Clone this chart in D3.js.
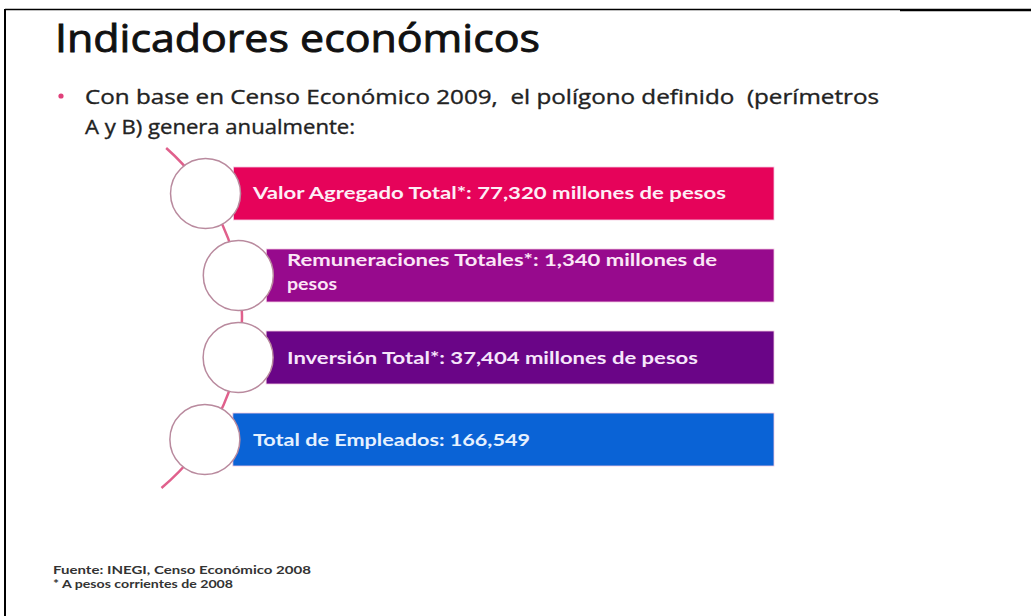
<!DOCTYPE html>
<html>
<head>
<meta charset="utf-8">
<script src="https://cdn.jsdelivr.net/npm/d3@7"></script>
<style>
  html, body { margin: 0; padding: 0; background: #ffffff; }
  svg { display: block; }
</style>
</head>
<body>
<svg id="chart" width="1031" height="616"></svg>
<script>
// ---- Data ----
const title = "Indicadores económicos";
const bulletLines = [
  "Con base en Censo Económico 2009,  el polígono definido  (perímetros",
  "A y B) genera anualmente:"
];
const indicators = ["Valor Agregado Total*", "Remuneraciones Totales*", "Inversión Total*", "Total de Empleados"];
const values = [77320, 1340, 37404, 166549];
const units = ["millones de pesos", "millones de pesos", "millones de pesos", ""];
const footnotes = ["Fuente: INEGI, Censo Económico 2008", "* A pesos corrientes de 2008"];

// ---- Styles ----
const barColors = ["#e6035a", "#970a8d", "#6a0587", "#0a63d6"];
const textColors = ["#fdeef6", "#fbe6f6", "#f6e6fb", "#e6f1ff"];

const svg = d3.select("#chart");
const fmt = d3.format(",");

function fit(sel, w) {
  sel.each(function() {
    const len = this.getComputedTextLength();
    if (Math.abs(len - w) > 1) {
      d3.select(this).attr("textLength", w).attr("lengthAdjust", "spacingAndGlyphs");
    }
  });
}

// Frame lines
svg.append("line").attr("x1", 5).attr("x2", 900).attr("y1", 9.5).attr("y2", 9.5)
  .attr("stroke", "#000").attr("stroke-width", 1.5);
svg.append("line").attr("x1", 900).attr("x2", 1031).attr("y1", 10).attr("y2", 10)
  .attr("stroke", "#000").attr("stroke-width", 2.5);
svg.append("line").attr("x1", 5).attr("x2", 5).attr("y1", 9).attr("y2", 616)
  .attr("stroke", "#000").attr("stroke-width", 2);

// Title
svg.append("text").attr("x", 55).attr("y", 52)
  .attr("font-family", "'Open Sans', Lato, sans-serif")
  .attr("font-size", 39).attr("fill", "#111")
  .attr("stroke", "#111").attr("stroke-width", 0.9)
  .text(title).call(fit, 485);

// Bullet
svg.append("circle").attr("cx", 61).attr("cy", 96).attr("r", 2.6).attr("fill", "#e0407a");
const bulletWidths = [794, 270];
bulletLines.forEach((t, i) => {
  svg.append("text").attr("x", 85).attr("y", 104 + i * 30)
    .attr("font-family", "'Open Sans', Lato, sans-serif")
    .attr("font-size", 20).attr("fill", "#222")
    .attr("stroke", "#222").attr("stroke-width", 0.35)
    .style("white-space", "pre")
    .text(t).call(fit, bulletWidths[i]);
});

// Scales
const y = d3.scaleBand().domain(indicators).range([167, 466]).paddingInner(0.354).paddingOuter(0);
const arcCx = 18, arcCy = 316, arcR = 224;
const xOnArc = yy => arcCx + Math.sqrt(arcR * arcR - (yy - arcCy) * (yy - arcCy));
const barRight = 774;

// Arc line
const arcPath = d3.path();
const a0 = Math.asin((148 - arcCy) / arcR), a1 = Math.asin((488 - arcCy) / arcR);
arcPath.arc(arcCx, arcCy, arcR, a0, a1, false);
svg.append("path").attr("d", arcPath.toString()).attr("fill", "none")
  .attr("stroke", "#e0608c").attr("stroke-width", 2.5);

// Bars
const g = svg.append("g");
indicators.forEach((name, i) => {
  const top = y(name), h = y.bandwidth();
  const cyc = top + h / 2;
  const cxc = xOnArc(cyc);
  g.append("rect").attr("x", cxc + 28).attr("y", top).attr("width", barRight - (cxc + 28)).attr("height", h)
    .attr("fill", barColors[i]).attr("stroke", "#f3c7e0").attr("stroke-width", 0.8);
});

// Circles
indicators.forEach((name, i) => {
  const cyc = y(name) + y.bandwidth() / 2;
  const cxc = xOnArc(cyc);
  svg.append("circle").attr("cx", cxc).attr("cy", cyc).attr("r", 35)
    .attr("fill", "#fff").attr("stroke", "#b98a9e").attr("stroke-width", 1.5);
});

// Bar labels
const labelLines = indicators.map((name, i) => {
  const full = name + ": " + fmt(values[i]) + (units[i] ? " " + units[i] : "");
  if (i === 1) return [name + ": " + fmt(values[i]) + " millones de", "pesos"];
  return [full];
});
const labelX = [253, 287, 287, 253];
const labelW = [[473], [430, 50], [411], [277]];
indicators.forEach((name, i) => {
  const top = y(name), h = y.bandwidth();
  const lines = labelLines[i];
  lines.forEach((t, j) => {
    const base = lines.length === 1 ? top + h / 2 + 6 : top + 17 + j * 24;
    svg.append("text").attr("x", labelX[i]).attr("y", base)
      .attr("font-family", "Lato, 'Open Sans', sans-serif")
      .attr("font-weight", "bold").attr("font-size", 17)
      .attr("fill", textColors[i])
      .text(t).call(fit, labelW[i][j]);
  });
});

// Footnotes
const fnW = [258, 180];
footnotes.forEach((t, i) => {
  svg.append("text").attr("x", 53).attr("y", 574 + i * 14)
    .attr("font-family", "Lato, 'Open Sans', sans-serif")
    .attr("font-weight", "bold").attr("font-size", 10.5)
    .attr("fill", "#333")
    .text(t).call(fit, fnW[i]);
});
</script>
</body>
</html>
